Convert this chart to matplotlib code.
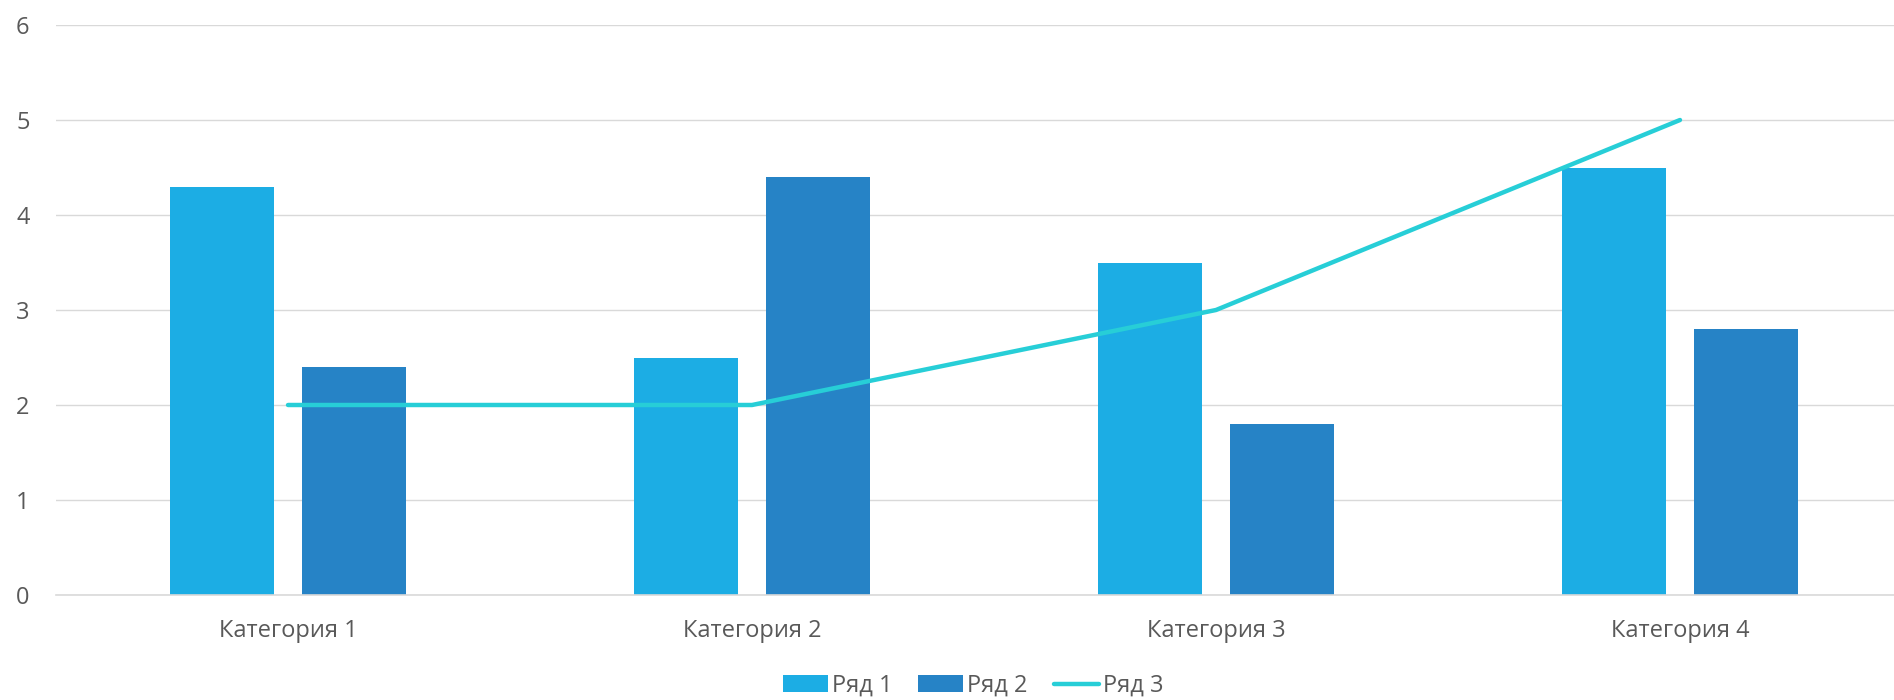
import matplotlib
matplotlib.use("Agg")
import matplotlib.pyplot as plt
import numpy as np

categories = ["Категория 1", "Категория 2", "Категория 3", "Категория 4"]
series1 = [4.3, 2.5, 3.5, 4.5]
series2 = [2.4, 4.4, 1.8, 2.8]
series3 = [2, 2, 3, 5]
series_names = ["Ряд 1", "Ряд 2", "Ряд 3"]
yticks = [0, 1, 2, 3, 4, 5, 6]

c1 = "#1CADE4"
c2 = "#2683C6"
c3 = "#27CED7"
txt = "#595959"
grid = "#D9D9D9"

plt.rcParams['font.family'] = ['Open Sans', 'DejaVu Sans']

W, H = 1894, 700
fig = plt.figure(figsize=(W / 100, H / 100), dpi=100)
left, right, bottom, top = 56, 1912, 595, 25
ax = fig.add_axes([left / W, (H - bottom) / H, (right - left) / W, (bottom - top) / H])

x = np.arange(len(categories))
bw = 0.224
off = 0.142
b1 = ax.bar(x - off, series1, width=bw, color=c1, label=series_names[0], zorder=2)
b2 = ax.bar(x + off, series2, width=bw, color=c2, label=series_names[1], zorder=2)
l3, = ax.plot(x, series3, color=c3, linewidth=3.2, solid_capstyle='round',
              solid_joinstyle='round', label=series_names[2], zorder=3)

ax.set_xlim(-0.5, len(categories) - 0.5)
ax.set_ylim(0, 6)
ax.set_yticks(yticks)
ax.set_xticks(x)
ax.set_xticklabels(categories)
ax.yaxis.grid(True, color=grid, linewidth=1.0, zorder=0)
ax.set_axisbelow(True)
for s in ["top", "right", "left"]:
    ax.spines[s].set_visible(False)
ax.spines["bottom"].set_color(grid)
ax.spines["bottom"].set_linewidth(1.2)
ax.tick_params(axis='both', length=0, labelsize=17, labelcolor=txt)
ax.tick_params(axis='y', pad=19)
ax.tick_params(axis='x', pad=17)

leg = fig.legend([b1, b2, l3], series_names, loc='center',
                 bbox_to_anchor=(973 / W, 1 - 686 / H),
                 ncol=3, frameon=False, fontsize=17, handlelength=1.9,
                 handletextpad=0.17, columnspacing=1.1, labelcolor=txt)

fig.savefig("out.png", dpi=100, facecolor="white")
